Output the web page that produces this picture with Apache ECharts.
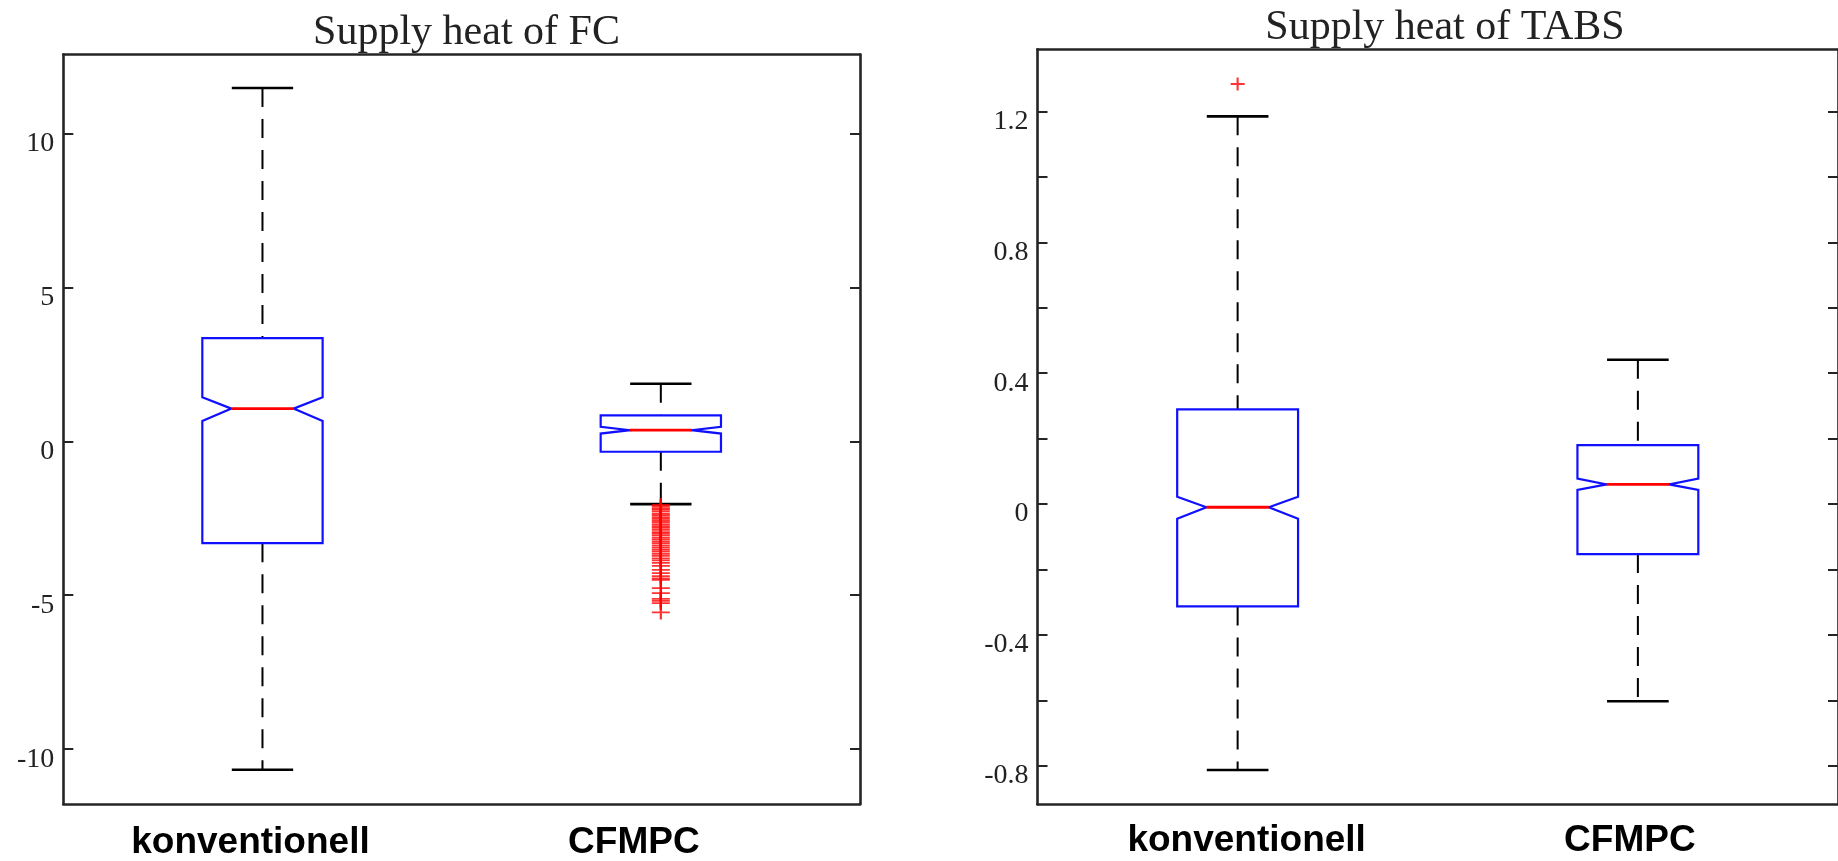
<!DOCTYPE html>
<html><head><meta charset="utf-8">
<script src="https://cdn.jsdelivr.net/npm/echarts@6/dist/echarts.min.js"></script>
<style>html,body{margin:0;padding:0;background:#fff}#c{width:1838px;height:861px}</style>
</head><body><div id="c"></div>
<script>
const categories = ['konventionell', 'CFMPC'];
const titles = ['Supply heat of FC', 'Supply heat of TABS'];
// each box: [lower whisker, Q1, notch low, median, notch high, Q3, upper whisker]
const fcKonventionell = [-10.67, -3.31, 0.66, 1.06, 1.43, 3.35, 11.47];
const fcCFMPC = [-2.04, -0.34, 0.25, 0.36, 0.47, 0.84, 1.87];
const fcOutliersKonventionell = [];
const fcOutliersCFMPC = [-2.07, -2.12, -2.18, -2.22, -2.28, -2.35, -2.40, -2.46, -2.52, -2.58, -2.63, -2.70,
  -2.76, -2.81, -2.88, -2.95, -3.00, -3.06, -3.13, -3.19, -3.25, -3.31, -3.38, -3.45, -3.52, -3.58,
  -3.66, -3.72, -3.80, -3.87, -3.95, -4.05, -4.18, -4.28, -4.38, -4.45, -4.50, -4.77, -4.93, -5.12,
  -5.18, -5.26, -5.56];
const tabsKonventionell = [-0.813, -0.313, -0.045, -0.010, 0.022, 0.289, 1.185];
const tabsCFMPC = [-0.603, -0.153, 0.043, 0.060, 0.078, 0.180, 0.441];
const tabsOutliersKonventionell = [1.284];
const tabsOutliersCFMPC = [];
const fcRange = [-11.78, 12.56];
const tabsRange = [-0.918, 1.39];
const fcTickValues = [-10, -5, 0, 5, 10];
const fcLabelValues = [-10, -5, 0, 5, 10];
const tabsTickValues = [-0.8, -0.6, -0.4, -0.2, 0, 0.2, 0.4, 0.6, 0.8, 1.0, 1.2];
const tabsLabelValues = [-0.8, -0.4, 0, 0.4, 0.8, 1.2];

const FRAME = '#252525';
const SERIF = '"Liberation Serif", "DejaVu Serif", serif';
const SANS = '"Liberation Sans", Arial, sans-serif';

function renderBox(params, api) {
  const cat = api.value(0);
  const lw = api.value(1), q1 = api.value(2), nlo = api.value(3), med = api.value(4),
        nhi = api.value(5), q3 = api.value(6), hw = api.value(7);
  const band = api.size([1, 0])[0];
  const hb = band * 0.151, hn = band * 0.078, hc = band * 0.077;
  const cx = api.coord([cat, med])[0];
  const y = v => api.coord([cat, v])[1];
  const whisk = {stroke: '#000', lineWidth: 2, lineDash: [19, 12]};
  const cap = {stroke: '#000', lineWidth: 2.6};
  const pts = [
    [cx - hb, y(q3)], [cx + hb, y(q3)], [cx + hb, y(nhi)], [cx + hn, y(med)], [cx + hb, y(nlo)],
    [cx + hb, y(q1)], [cx - hb, y(q1)], [cx - hb, y(nlo)], [cx - hn, y(med)], [cx - hb, y(nhi)]
  ];
  return {
    type: 'group',
    children: [
      {type: 'line', shape: {x1: cx, y1: y(hw), x2: cx, y2: y(q3)}, style: whisk},
      {type: 'line', shape: {x1: cx, y1: y(q1), x2: cx, y2: y(lw)}, style: whisk},
      {type: 'line', shape: {x1: cx - hc, y1: y(hw), x2: cx + hc, y2: y(hw)}, style: cap},
      {type: 'line', shape: {x1: cx - hc, y1: y(lw), x2: cx + hc, y2: y(lw)}, style: cap},
      {type: 'polygon', shape: {points: pts}, style: {fill: 'none', stroke: '#1010ff', lineWidth: 2.2, lineJoin: 'miter'}},
      {type: 'line', shape: {x1: cx - hn, y1: y(med), x2: cx + hn, y2: y(med)}, style: {stroke: '#ff0000', lineWidth: 2.8}}
    ]
  };
}

function boxData(a, b) { return [[0].concat(a), [1].concat(b)]; }
function outlierData(a, b) { return a.map(v => [0, v]).concat(b.map(v => [1, v])); }

const labelRich = {
  l0: {padding: [0, 24, 0, 0]}, l1: {padding: [0, 54, 0, 0]},
  r0: {padding: [0, 0, 0, 18]}, r1: {padding: [0, 16, 0, 0]}
};
function xAxes(gi, prefix, margin) {
  const common = {
    type: 'category', data: categories, gridIndex: gi, boundaryGap: true,
    axisLine: {onZero: false, lineStyle: {color: FRAME, width: 2.6}},
    axisTick: {inside: true, alignWithLabel: true, length: 9, lineStyle: {color: FRAME, width: 2}},
    splitLine: {show: false}
  };
  return [
    Object.assign({}, common, {position: 'bottom', axisLabel: {
      show: true, interval: 0, margin: margin, color: '#000', fontFamily: SANS, fontWeight: 'bold',
      fontSize: 37, lineHeight: 37, rich: labelRich,
      formatter: (v, i) => '{' + prefix + i + '|' + v + '}'
    }}),
    Object.assign({}, common, {position: 'top', axisLabel: {show: false}})
  ];
}
function yAxes(gi, range, ticks, labels, fmt) {
  const common = {
    type: 'value', gridIndex: gi, min: range[0], max: range[1],
    axisLine: {show: true, onZero: false, lineStyle: {color: FRAME, width: 2.6}},
    axisTick: {show: true, inside: true, length: 10, customValues: ticks, lineStyle: {color: FRAME, width: 2}},
    splitLine: {show: false}
  };
  return [
    Object.assign({}, common, {position: 'left', axisLabel: {
      show: true, customValues: labels, margin: 9, color: '#222', fontFamily: SERIF, fontSize: 28,
      verticalAlign: 'top', lineHeight: 20, formatter: fmt
    }}),
    Object.assign({}, common, {position: 'right', axisLabel: {show: false}})
  ];
}

const plusStyle = {color: 'rgba(0,0,0,0)', borderColor: '#ff0000', borderWidth: 2};
const option = {
  animation: false,
  backgroundColor: '#fff',
  title: [
    {text: titles[0], left: 461.5, top: 7, textAlign: 'center',
     textStyle: {fontFamily: SERIF, fontWeight: 'normal', fontSize: 42, lineHeight: 42, color: '#222'}},
    {text: titles[1], left: 1440, top: 2, textAlign: 'center',
     textStyle: {fontFamily: SERIF, fontWeight: 'normal', fontSize: 42, lineHeight: 42, color: '#222'}}
  ],
  grid: [
    {left: 63.3, top: 54.5, width: 796.7, height: 752.2},
    {left: 1037.5, top: 49.3, width: 805, height: 755}
  ],
  xAxis: xAxes(0, 'l', 20).concat(xAxes(1, 'r', 18)),
  yAxis: yAxes(0, fcRange, fcTickValues, fcLabelValues, v => String(v))
    .concat(yAxes(1, tabsRange, tabsTickValues, tabsLabelValues, v => String(+(+v).toFixed(1)))),
  series: [
    {type: 'custom', xAxisIndex: 0, yAxisIndex: 0, renderItem: renderBox, silent: true,
     data: boxData(fcKonventionell, fcCFMPC), encode: {x: 0, y: [1, 2, 3, 4, 5, 6, 7]}},
    {type: 'scatter', xAxisIndex: 0, yAxisIndex: 0, silent: true,
     symbol: 'path://M0,7 L18,7 M9,0 L9,14', symbolSize: [18, 14], itemStyle: plusStyle,
     data: outlierData(fcOutliersKonventionell, fcOutliersCFMPC)},
    {type: 'custom', xAxisIndex: 2, yAxisIndex: 2, renderItem: renderBox, silent: true,
     data: boxData(tabsKonventionell, tabsCFMPC), encode: {x: 0, y: [1, 2, 3, 4, 5, 6, 7]}},
    {type: 'scatter', xAxisIndex: 2, yAxisIndex: 2, silent: true,
     symbol: 'path://M0,7 L14,7 M7,0 L7,14', symbolSize: [14, 13], itemStyle: plusStyle,
     data: outlierData(tabsOutliersKonventionell, tabsOutliersCFMPC)}
  ]
};
const chart = echarts.init(document.getElementById('c'), null, {renderer: 'canvas'});
chart.setOption(option);
</script>
</body></html>
